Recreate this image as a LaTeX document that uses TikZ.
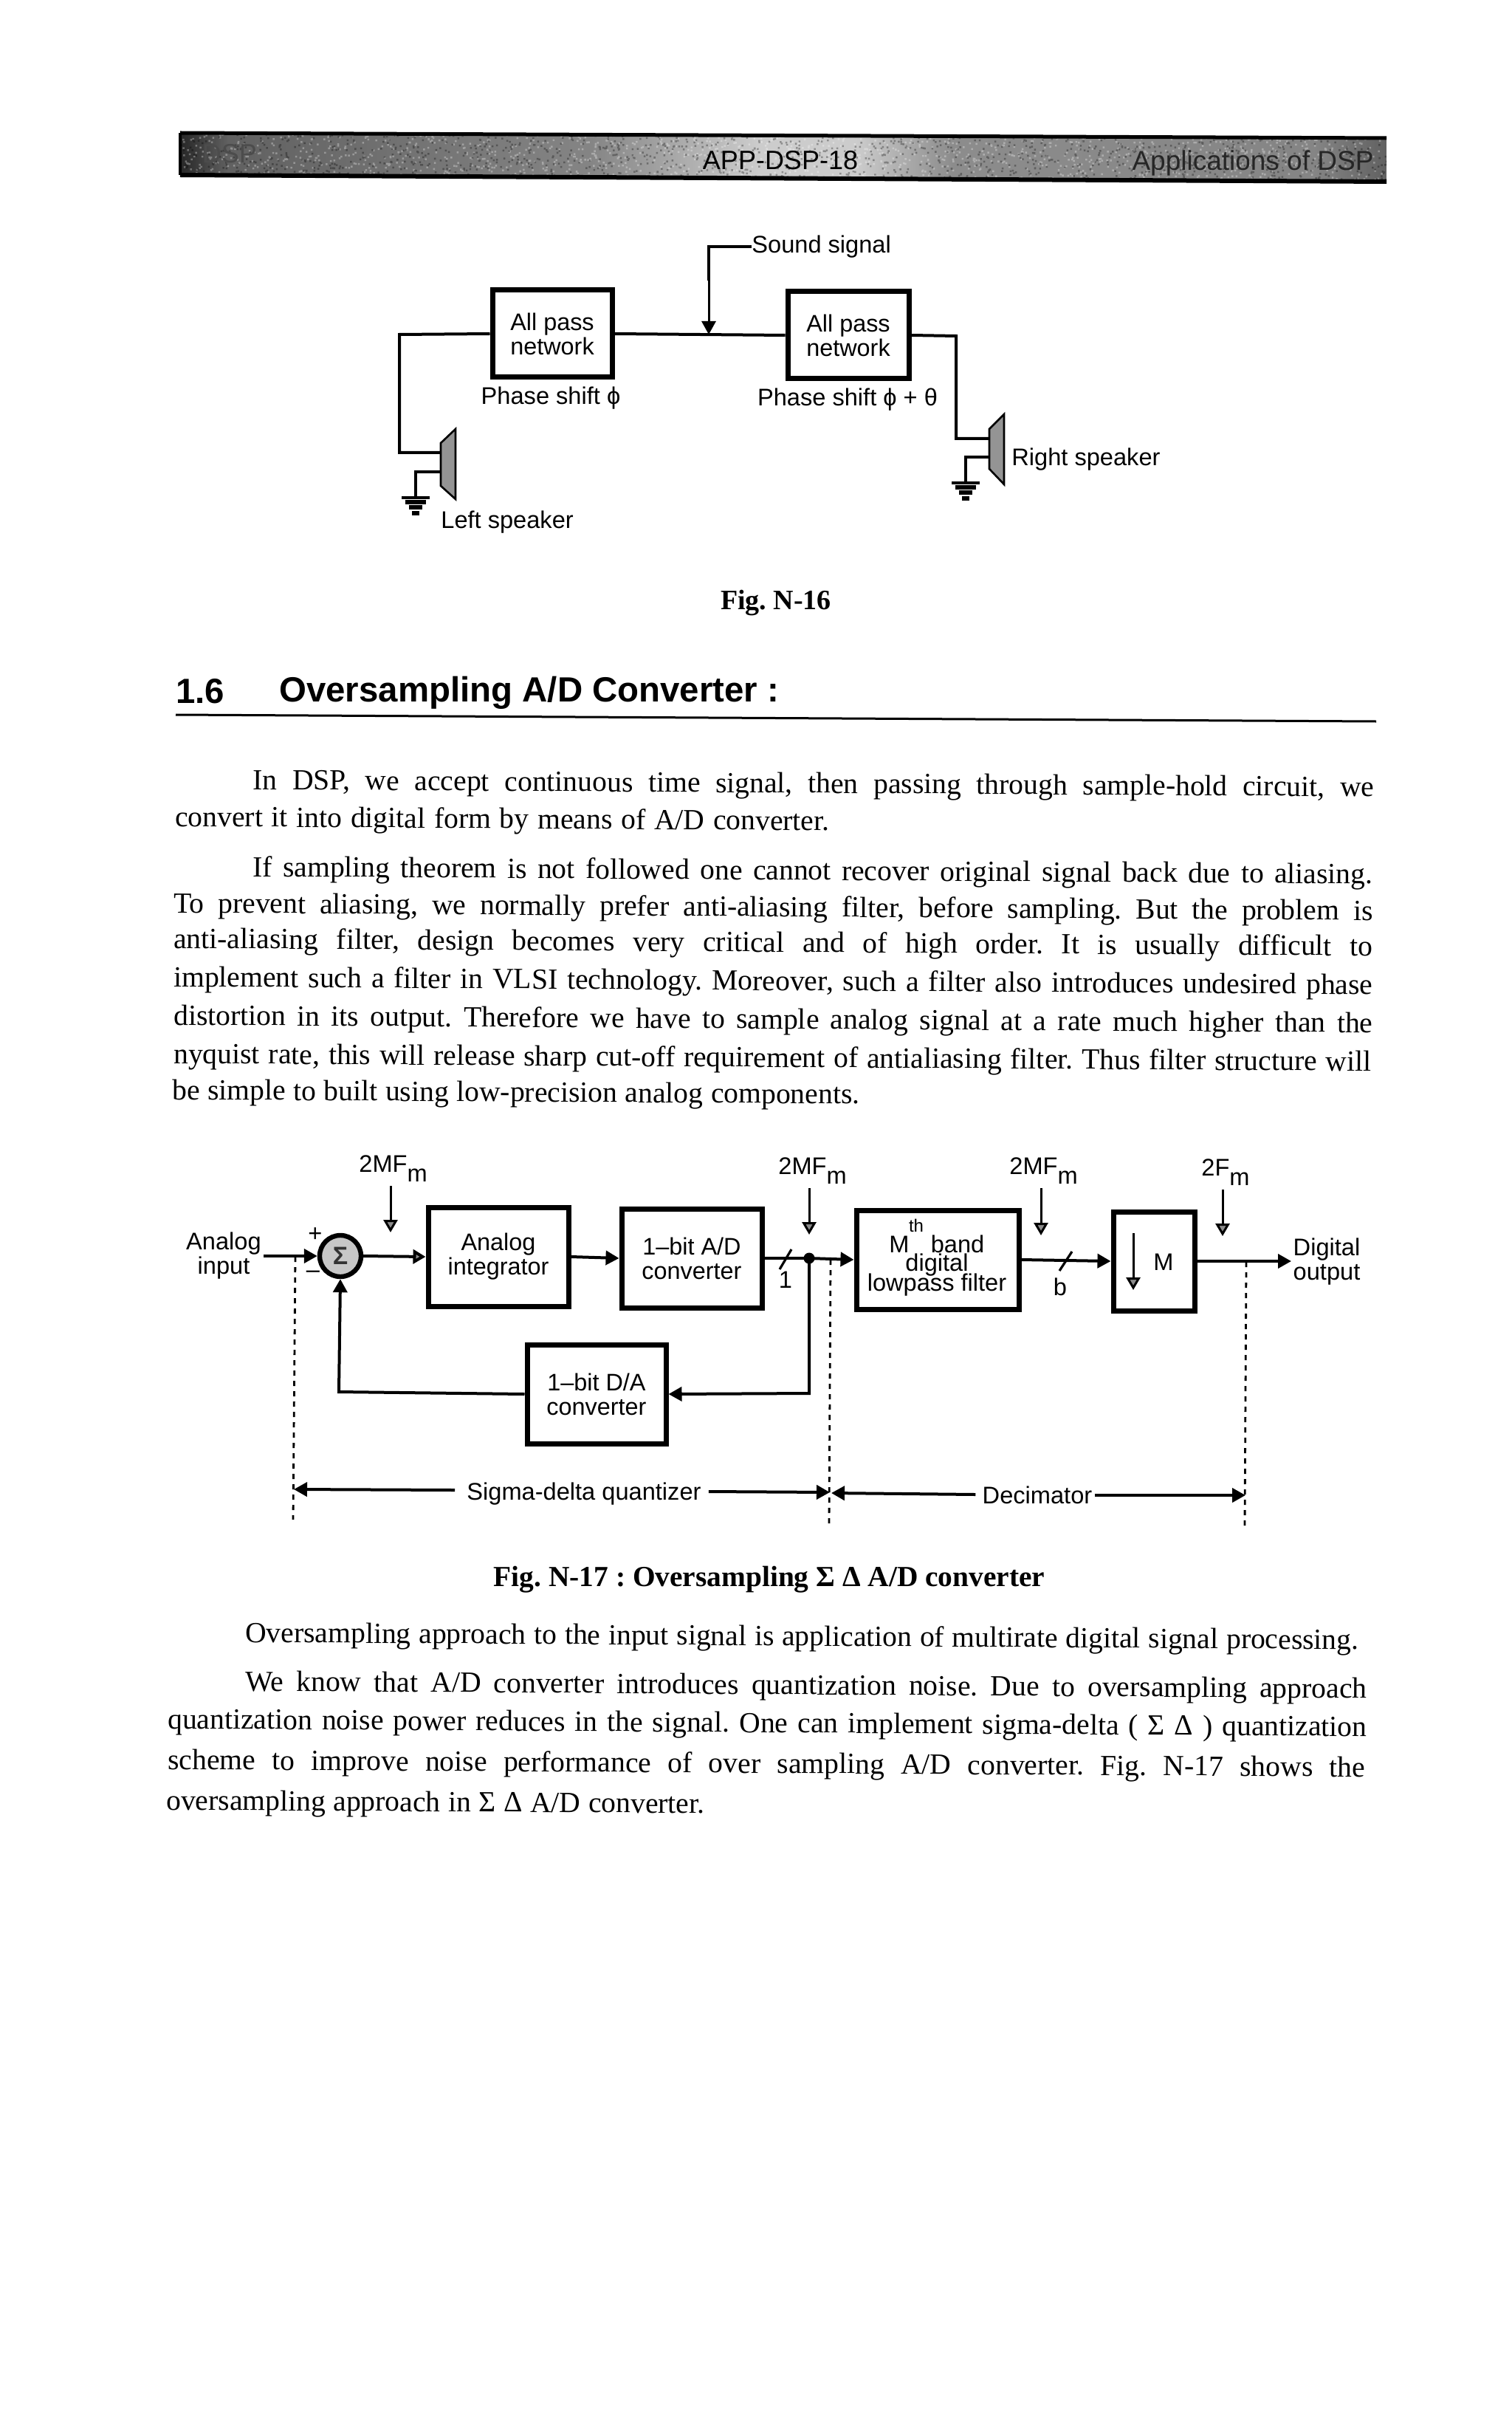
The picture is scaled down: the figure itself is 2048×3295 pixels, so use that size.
\documentclass[tikz,border=0pt]{standalone}
\usepackage{fontspec}
\setmainfont{Liberation Serif}
\setsansfont{Liberation Sans}
\usetikzlibrary{arrows.meta}
\pgfdeclarehorizontalshading{hdrshade}{100bp}{color(0bp)=(black!85);color(25bp)=(black!85);color(27bp)=(black!62);color(42bp)=(black!48);color(49bp)=(black!20);color(53bp)=(black!20);color(57bp)=(black!45);color(72bp)=(black!48);color(75bp)=(black!62);color(100bp)=(black!62)}
\tikzset{
 x=0.5pt,y=-0.5pt,
 wire/.style={line width=2pt,black},
 thin wire/.style={line width=1.5pt,black},
 blockbox/.style={draw=black,line width=3.5pt,fill=white,inner sep=0pt,align=center,font=\sffamily\fontsize{16.2}{16.5}\selectfont},
 lab/.style={inner sep=0pt,align=center,font=\sffamily\fontsize{16.3}{16.5}\selectfont},
 fa/.style={-{Triangle[length=9pt,width=9.5pt]}},
 ca/.style={-{Triangle[length=8.5pt,width=9.5pt,fill=black!45]}},
 dashline/.style={line width=1.4pt,dash pattern=on 3.5pt off 3.5pt},
 bodyl/.style={inner sep=0pt,anchor=west,rotate=-0.37,font=\rmfamily\fontsize{19.8}{20}\selectfont},
 spk/.style={draw=black,line width=1.3pt,fill=black!42},
 gnd/.style={line width=2pt},
}
\newcommand\tl[5]{\node[bodyl] (#1) at (#2,#3) {\makebox[\dimexpr #4pt/2\relax][s]{\strut #5}};}
\newcommand\clk[5]{%
 \node[lab,anchor=west] (#1) at (#2,#3+2) {#4\raisebox{-6.5pt}{m}};
 \coordinate (#1a) at (#5,#3+25);
}
\begin{document}
\frenchspacing
\begin{tikzpicture}
\useasboundingbox (0,0) rectangle (2048,3295);
\fill[white] (0,0) rectangle (2048,3295);

% header band
\begin{scope}
\clip (244,180) -- (1878,187) -- (1878,246) -- (244,237) -- cycle;
\shade[shading=hdrshade] (244,180) rectangle (1878,246);
\pgfmathsetseed{11}
\fill[white,opacity=0.3] foreach \i in {1,...,1500} {
  (244+1634*rnd,178+70*rnd) rectangle ++(2.5,2.5)
};
\fill[black,opacity=0.3] foreach \i in {1,...,1500} {
  (244+1634*rnd,178+70*rnd) rectangle ++(2.5,2.5)
};
\end{scope}
\draw[line width=2.5pt] (244,180) -- (1878,187);
\draw[line width=3pt] (244,237) -- (1878,246);
\draw[line width=2pt] (244,180) -- (244,237);
\node[lab,font=\sffamily\fontsize{18}{20}\selectfont,black] (hc) at (1057,217) {APP-DSP-18};
\node[lab,font=\sffamily\fontsize{18.5}{20}\selectfont,black!85] (hr) at (1697,221) {Applications of DSP};
\node[lab,font=\sffamily\fontsize{18}{20}\selectfont,black!70] (hl) at (311,208) {DSP};

% Fig N-16
\node[blockbox,minimum width=81pt,minimum height=59pt] (ap1) at (748,452) {All pass\\network};
\node[blockbox,minimum width=82pt,minimum height=59pt] (ap2) at (1149,454) {All pass\\network};
\draw[wire] (ap1.east) -- (ap2.west);
\node[lab,anchor=west] (ss) at (1018,334) {Sound signal};
\coordinate (sj) at (960,453);
\draw[wire] (ss.west) -- (960,334) -- (960,380);
\draw[thin wire,fa] (960,380) -- (sj);
\node[lab] (ps1) at (746,539) {Phase shift ϕ};
\node[lab] (ps2) at (1148,541) {Phase shift ϕ + θ};

\draw[spk] (597,600) -- (617,581) -- (617,676) -- (597,658) -- cycle;
\coordinate (ls1) at (597,613);
\coordinate (ls2) at (597,639);
\coordinate (lg) at (563,673);
\draw[wire] (ap1.west) -- (541,453) -- (541,613) -- (ls1);
\draw[wire] (ls2) -- (563,639) -- (lg);
\draw[gnd] (544,674) -- (582,674);
\draw[line width=3pt] (549,680) -- (577,680);
\draw[line width=3pt] (554,687) -- (572,687);
\draw[line width=3pt] (558,695) -- (568,695);
\node[lab,anchor=west] (lsp) at (597,707) {Left speaker};

\draw[spk] (1340,581) -- (1360,561) -- (1360,656) -- (1340,635) -- cycle;
\coordinate (rs1) at (1340,594);
\coordinate (rs2) at (1340,619);
\coordinate (rg) at (1308,653);
\draw[wire] (ap2.east) -- (1295,455) -- (1295,594) -- (rs1);
\draw[wire] (rs2) -- (1308,619) -- (rg);
\draw[gnd] (1289,654) -- (1327,654);
\draw[line width=3pt] (1294,660) -- (1322,660);
\draw[line width=3pt] (1299,667) -- (1317,667);
\draw[line width=3pt] (1303,675) -- (1313,675);
\node[lab,anchor=west] (rsp) at (1370,622) {Right speaker};

\node[inner sep=0pt,font=\rmfamily\bfseries\fontsize{19}{20}\selectfont] (fig16) at (1051,817) {Fig. N-16};

% section heading
\node[inner sep=0pt,anchor=west,font=\sffamily\bfseries\fontsize{23.7}{24}\selectfont] (secn) at (238,936) {1.6};
\node[inner sep=0pt,anchor=west,font=\sffamily\bfseries\fontsize{23.7}{24}\selectfont] (sect) at (378,938) {Oversampling A/D Converter :};
\coordinate (ruleL) at (238,968);
\coordinate (ruleR) at (1864,977);
\draw[line width=1.5pt] (ruleL) -- (ruleR);

% body text
\tl{b1}{342}{1061}{1519}{In DSP, we accept continuous time signal, then passing through sample-hold circuit, we}
\tl{b2}{237}{1111}{886}{convert it into digital form by means of A/D converter.}
\tl{b3}{342}{1179}{1517}{If sampling theorem is not followed one cannot recover original signal back due to aliasing.}
\tl{b4}{235}{1228}{1624}{To prevent aliasing, we normally prefer anti-aliasing filter, before sampling. But the problem is}
\tl{b5}{235}{1276}{1624}{anti-aliasing filter, design becomes very critical and of high order. It is usually difficult to}
\tl{b6}{235}{1328}{1624}{implement such a filter in VLSI technology. Moreover, such a filter also introduces undesired phase}
\tl{b7}{235}{1380}{1624}{distortion in its output. Therefore we have to sample analog signal at a rate much higher than the}
\tl{b8}{235}{1432}{1622}{nyquist rate, this will release sharp cut-off requirement of antialiasing filter. Thus filter structure will}
\tl{b9}{233}{1481}{931}{be simple to built using low-precision analog components.}

% Fig N-17 blocks
\node[blockbox,minimum width=95pt,minimum height=67pt] (integ) at (675,1702) {Analog\\integrator};
\node[blockbox,minimum width=95pt,minimum height=67pt] (adc) at (937,1704) {1--bit A/D\\converter};
\node[blockbox,minimum width=94pt,minimum height=67pt] (dac) at (808,1888) {1--bit D/A\\converter};
\node[blockbox,minimum width=110pt,minimum height=67pt] (mfilt) at (1270,1706) {};
\node[blockbox,minimum width=55pt,minimum height=67pt] (mbox) at (1563,1708) {};
\node[circle,draw=black,line width=3.2pt,fill=black!22,minimum size=28pt,inner sep=0pt,font=\sffamily\bfseries\fontsize{17}{17}\selectfont,text=black!80] (sum) at (461,1701) {Σ};
\node[circle,fill=black,minimum size=7.5pt,inner sep=0pt] (dot) at (1096,1704) {};

\node[lab] (ai) at (303,1701) {Analog\\input};
\node[lab] (di) at (1797,1709) {Digital\\output};
\node[lab] (plus) at (427,1672) {+};
\node[lab] (minus) at (424,1726) {--};

\node[lab] (mt1) at (1218,1685) {M};
\node[lab,font=\sffamily\fontsize{12}{12}\selectfont] (mt2) at (1241,1660) {th};
\node[lab] (mt3) at (1297,1685) {band};
\node[lab] (mt4) at (1269,1713) {digital};
\node[lab] (mt5) at (1269,1740) {lowpass filter};
\node[lab] (mm) at (1576,1709) {M};
\coordinate (mi1) at (1535,1670);
\coordinate (mi2) at (1535,1747);
\draw[thin wire,ca] (mi1) -- (mi2);

% connectors
\coordinate (aiw) at (357,1701);
\draw[wire,fa] (aiw) -- (sum.west);
\draw[wire,ca] (sum.east) -- (integ.west);
\draw[wire,fa] (integ.east) -- (adc.west);
\draw[wire] (adc.east) -- (dot.center);
\draw[wire,fa] (dot.center) -- (mfilt.west);
\draw[wire,fa] (mfilt.east) -- (mbox.west);
\coordinate (doe) at (1749,1708);
\draw[wire,fa] (mbox.east) -- (doe);
\draw[wire,fa] (dot.center) -- (1096,1887) -- (dac.east);
\draw[wire,fa] (dac.west) -- (459,1885) -- (sum.south);

% slashes
\coordinate (s1a) at (1056,1719);
\coordinate (s1b) at (1072,1692);
\draw[line width=1.6pt] (s1a) -- (s1b);
\node[lab] (one) at (1064,1733) {1};
\coordinate (s2a) at (1435,1721);
\coordinate (s2b) at (1452,1695);
\draw[line width=1.6pt] (s2a) -- (s2b);
\node[lab] (bb) at (1436,1743) {b};

% clocks
\clk{c1}{486}{1581}{2MF}{529}
\clk{c2}{1054}{1584}{2MF}{1096}
\clk{c3}{1367}{1584}{2MF}{1410}
\clk{c4}{1627}{1586}{2F}{1656}
\coordinate (c1e) at (529,1669);
\coordinate (c2e) at (1096,1672);
\coordinate (c3e) at (1410,1673);
\coordinate (c4e) at (1656,1674);
\draw[thin wire,ca] (c1a) -- (c1e);
\draw[thin wire,ca] (c2a) -- (c2e);
\draw[thin wire,ca] (c3a) -- (c3e);
\draw[thin wire,ca] (c4a) -- (c4e);

% dashed bounds
\coordinate (d1a) at (400,1702);
\coordinate (d1b) at (397,2058);
\coordinate (d2a) at (1125,1706);
\coordinate (d2b) at (1123,2063);
\coordinate (d3a) at (1688,1709);
\coordinate (d3b) at (1686,2067);
\draw[dashline] (d1a) -- (d1b);
\draw[dashline] (d2a) -- (d2b);
\draw[dashline] (d3a) -- (d3b);

% range arrows
\node[lab] (sdq) at (791,2023) {Sigma-delta quantizer};
\node[lab] (dec) at (1405,2025) {Decimator};
\coordinate (ta) at (398,2017);
\coordinate (tb) at (1124,2021);
\coordinate (tc) at (1126,2022);
\coordinate (td) at (1687,2025);
\draw[wire,fa] (sdq.west) ++(-16,-5) -- (ta);
\draw[wire,fa] (sdq.east) ++(10,-3) -- (tb);
\draw[wire,fa] (dec.west) ++(-9,-1) -- (tc);
\draw[wire,fa] (dec.east) ++(3,0) -- (td);

% lower text
\node[inner sep=0pt,font=\rmfamily\bfseries\fontsize{19.7}{20}\selectfont] (fig17) at (1042,2139) {Fig. N-17 : Oversampling Σ Δ A/D converter};
\tl{o1}{332}{2216}{1508}{Oversampling approach to the input signal is application of multirate digital signal processing.}
\tl{o2}{332}{2282}{1519}{We know that A/D converter introduces quantization noise. Due to oversampling approach}
\tl{o3}{227}{2333}{1624}{quantization noise power reduces in the signal. One can implement sigma-delta ( Σ Δ ) quantization}
\tl{o4}{227}{2388}{1622}{scheme to improve noise performance of over sampling A/D converter. Fig. N-17 shows the}
\tl{o5}{225}{2443}{729}{oversampling approach in Σ Δ A/D converter.}
\end{tikzpicture}
\end{document}
